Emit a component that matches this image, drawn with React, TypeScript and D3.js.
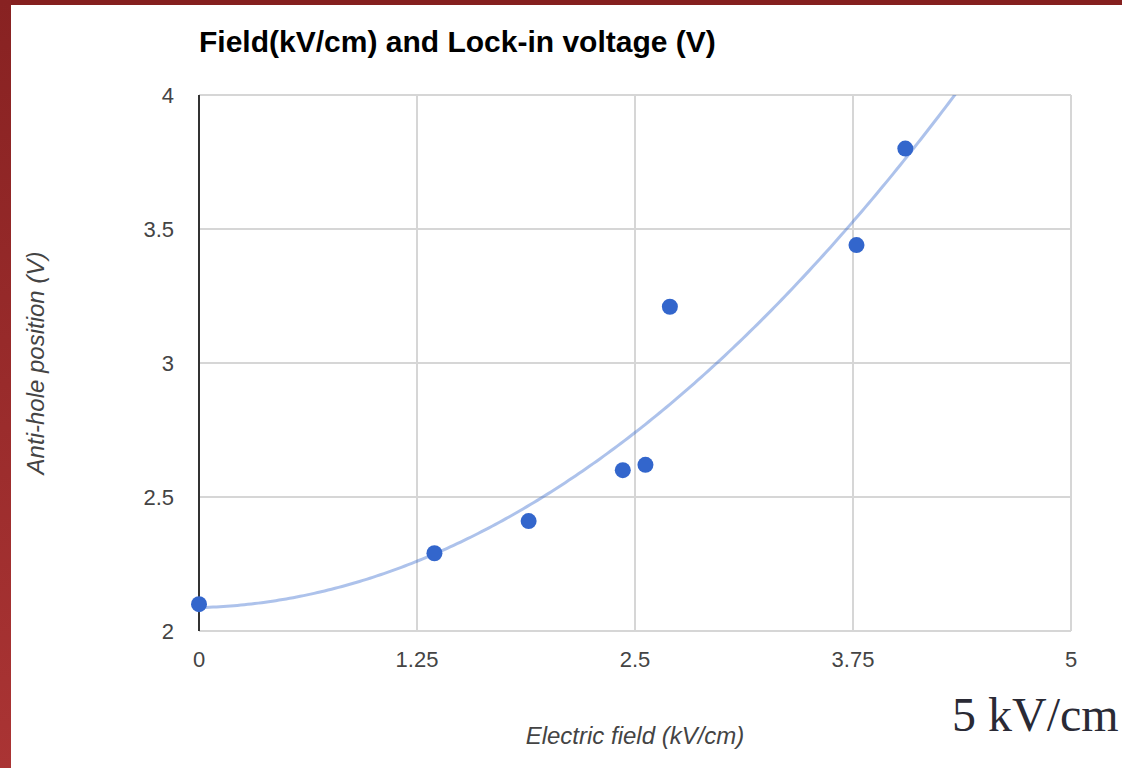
import * as d3 from 'd3';

// Measured points: electric field (kV/cm) vs anti-hole position (V)
const fieldValues = [0, 1.35, 1.89, 2.43, 2.56, 2.7, 3.77, 4.05];
const voltageValues = [2.1, 2.29, 2.41, 2.6, 2.62, 3.21, 3.44, 3.8];
const xTicks = [0, 1.25, 2.5, 3.75, 5];
const yTicks = [2, 2.5, 3, 3.5, 4];
const xTickLabels = ['0', '1.25', '2.5', '3.75', '5'];
const yTickLabels = ['2', '2.5', '3', '3.5', '4'];

const W = 1122;
const H = 768;
const margin = { left: 199, right: 51, top: 95, bottom: 137 };

// least squares quadratic trendline (like the chart's polynomial trendline)
function quadFit(xs: number[], ys: number[]) {
  const s = [0, 0, 0, 0, 0];
  const t = [0, 0, 0];
  xs.forEach((x, i) => {
    for (let k = 0; k < 5; k++) s[k] += Math.pow(x, k);
    for (let k = 0; k < 3; k++) t[k] += ys[i] * Math.pow(x, k);
  });
  const m = [
    [s[0], s[1], s[2], t[0]],
    [s[1], s[2], s[3], t[1]],
    [s[2], s[3], s[4], t[2]],
  ];
  for (let c = 0; c < 3; c++) {
    for (let r = c + 1; r < 3; r++) {
      const f = m[r][c] / m[c][c];
      for (let k = c; k < 4; k++) m[r][k] -= f * m[c][k];
    }
  }
  const coef = [0, 0, 0];
  for (let r = 2; r >= 0; r--) {
    let v = m[r][3];
    for (let k = r + 1; k < 3; k++) v -= m[r][k] * coef[k];
    coef[r] = v / m[r][r];
  }
  return (x: number) => coef[0] + coef[1] * x + coef[2] * x * x;
}

export default function App() {
  const x = d3.scaleLinear().domain([0, 5]).range([margin.left, W - margin.right]);
  const y = d3.scaleLinear().domain([2, 4]).range([H - margin.bottom, margin.top]);

  const trend = quadFit(fieldValues, voltageValues);
  const trendPts = d3.range(0, 5.001, 0.02).map((v) => [v, trend(v)] as [number, number]);
  const line = d3
    .line<[number, number]>()
    .x((d) => x(d[0]))
    .y((d) => y(d[1]));

  const font = 'Arial, "Liberation Sans", sans-serif';

  return (
    <svg
      width={W}
      height={H}
      style={{ position: 'absolute', left: 0, top: 0, background: '#fff' }}
    >
      <defs>
        <linearGradient id="frame" x1="0" y1="0" x2="0" y2="1">
          <stop offset="0" stopColor="#882222" />
          <stop offset="1" stopColor="#aa3434" />
        </linearGradient>
        <clipPath id="plot">
          <rect
            x={margin.left}
            y={margin.top}
            width={W - margin.left - margin.right}
            height={H - margin.top - margin.bottom}
          />
        </clipPath>
      </defs>

      {/* red slide frame */}
      <rect x={0} y={0} width={W} height={5} fill="#85201f" />
      <rect x={0} y={0} width={11} height={H} fill="url(#frame)" />

      <text x={199} y={52} fontFamily={font} fontWeight="bold" fontSize={30} fill="#000">
        Field(kV/cm) and Lock-in voltage (V)
      </text>

      {/* grid */}
      {xTicks.map((t) => (
        <line key={'gx' + t} x1={x(t)} x2={x(t)} y1={y(2)} y2={y(4)} stroke="#d6d6d6" strokeWidth={2} />
      ))}
      {yTicks.map((t) => (
        <line key={'gy' + t} x1={x(0)} x2={x(5)} y1={y(t)} y2={y(t)} stroke="#d6d6d6" strokeWidth={2} />
      ))}
      <line x1={x(0)} x2={x(0)} y1={y(2)} y2={y(4)} stroke="#333" strokeWidth={2} />

      {/* tick labels */}
      {xTicks.map((t, i) => (
        <text key={'tx' + t} x={x(t)} y={667} textAnchor="middle" fontFamily={font} fontSize={22} fill="#444">
          {xTickLabels[i]}
        </text>
      ))}
      {yTicks.map((t, i) => (
        <text key={'ty' + t} x={174} y={y(t) + 8} textAnchor="end" fontFamily={font} fontSize={22} fill="#444">
          {yTickLabels[i]}
        </text>
      ))}

      {/* trendline */}
      <path
        d={line(trendPts) ?? ''}
        clipPath="url(#plot)"
        fill="none"
        stroke="#3366cc"
        strokeOpacity={0.4}
        strokeWidth={3}
      />

      {/* points */}
      {fieldValues.map((fv, i) => (
        <circle key={i} cx={x(fv)} cy={y(voltageValues[i])} r={8} fill="#3366cc" />
      ))}

      {/* axis titles */}
      <text x={635} y={744} textAnchor="middle" fontFamily={font} fontStyle="italic" fontSize={24} fill="#444">
        Electric field (kV/cm)
      </text>
      <text
        transform={`translate(44, ${y(3)}) rotate(-90)`}
        textAnchor="middle"
        fontFamily={font}
        fontStyle="italic"
        fontSize={24}
        fill="#444"
      >
        Anti-hole position (V)
      </text>

      <text x={952} y={731} fontFamily='"Liberation Serif", "Times New Roman", serif' fontSize={48} fill="#2a2a35">
        5 kV/cm
      </text>
    </svg>
  );
}
